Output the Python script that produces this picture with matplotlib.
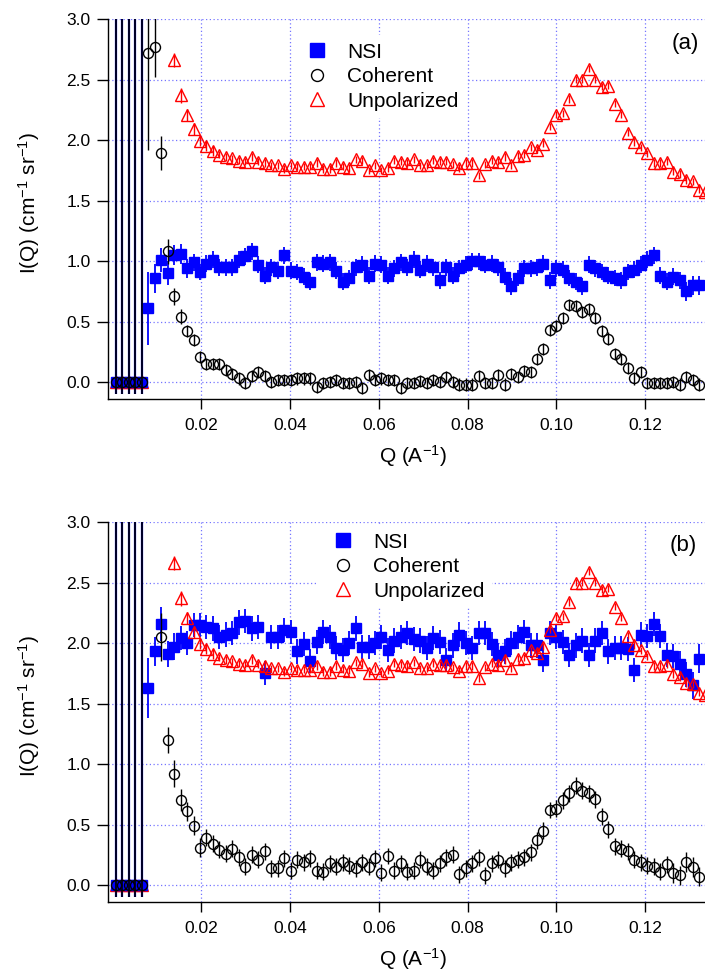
import numpy as np
import matplotlib
matplotlib.use("Agg")
import matplotlib.pyplot as plt
from matplotlib.lines import Line2D

plt.rcParams['font.family'] = ['Liberation Sans', 'DejaVu Sans']
plt.rcParams['mathtext.fontset'] = 'custom'
plt.rcParams['mathtext.rm'] = 'Liberation Sans'
plt.rcParams['mathtext.default'] = 'regular'

nan = np.nan

# lowest Q points: all set to zero, error bars run off the plot
q_low = [0.00075, 0.00221, 0.00367, 0.00513, 0.00659]
i_low = [0.0, 0.0, 0.0, 0.0, 0.0]
err_low_down = [0.10, 0.10, 0.10, 0.10, 0.10]
err_low_up = [3.05, 3.05, 3.05, 3.05, 3.05]

q = [0.00805, 0.00951, 0.01097, 0.01243, 0.01389, 0.01535, 0.01681, 0.01827, 0.01973, 0.02119,
     0.02265, 0.02411, 0.02557, 0.02703, 0.02849, 0.02995, 0.03141, 0.03287, 0.03433, 0.03579,
     0.03725, 0.03871, 0.04017, 0.04163, 0.04309, 0.04455, 0.04601, 0.04747, 0.04893, 0.05039,
     0.05185, 0.05331, 0.05477, 0.05623, 0.05769, 0.05915, 0.06061, 0.06207, 0.06353, 0.06499,
     0.06645, 0.06791, 0.06937, 0.07083, 0.07229, 0.07375, 0.07521, 0.07667, 0.07813, 0.07959,
     0.08105, 0.08251, 0.08397, 0.08543, 0.08689, 0.08835, 0.08981, 0.09127, 0.09273, 0.09419,
     0.09565, 0.09711, 0.09857, 0.10003, 0.10149, 0.10295, 0.10441, 0.10587, 0.10733, 0.10879,
     0.11025, 0.11171, 0.11317, 0.11463, 0.11609, 0.11755, 0.11901, 0.12047, 0.12193, 0.12339,
     0.12485, 0.12631, 0.12777, 0.12923, 0.13069, 0.13215, 0.13361]

# unpolarized (same in both panels)
unpol = [nan, nan, nan, nan, 2.66, 2.37, 2.21, 2.09, 1.99, 1.95,
         1.91, 1.88, 1.86, 1.85, 1.83, 1.82, 1.86, 1.82, 1.81, 1.79,
         1.79, 1.76, 1.79, 1.78, 1.78, 1.78, 1.81, 1.76, 1.76, 1.81,
         1.78, 1.77, 1.84, 1.83, 1.75, 1.79, 1.75, 1.77, 1.83, 1.82,
         1.81, 1.84, 1.79, 1.79, 1.83, 1.82, 1.82, 1.80, 1.77, 1.81,
         1.81, 1.71, 1.80, 1.83, 1.82, 1.86, 1.79, 1.87, 1.88, 1.94,
         1.92, 1.97, 2.11, 2.21, 2.22, 2.34, 2.50, 2.50, 2.59, 2.50,
         2.44, 2.45, 2.30, 2.21, 2.06, 1.98, 1.94, 1.89, 1.81, 1.81,
         1.82, 1.74, 1.72, 1.67, 1.66, 1.59, 1.57]
unpol_err = [0, 0, 0, 0, 0.06, 0.06, 0.05, 0.05, 0.04, 0.04,
             0.04, 0.03, 0.03, 0.03, 0.03, 0.03, 0.03, 0.03, 0.03, 0.03,
             0.03, 0.03, 0.03, 0.03, 0.03, 0.03, 0.03, 0.03, 0.03, 0.03,
             0.03, 0.03, 0.03, 0.03, 0.03, 0.03, 0.03, 0.03, 0.03, 0.03,
             0.03, 0.03, 0.03, 0.03, 0.03, 0.03, 0.03, 0.03, 0.03, 0.03,
             0.03, 0.03, 0.03, 0.03, 0.03, 0.03, 0.03, 0.03, 0.03, 0.03,
             0.03, 0.03, 0.03, 0.03, 0.03, 0.03, 0.03, 0.03, 0.03, 0.03,
             0.03, 0.03, 0.03, 0.03, 0.03, 0.03, 0.03, 0.03, 0.03, 0.03,
             0.03, 0.03, 0.03, 0.03, 0.03, 0.03, 0.03]

# panel (a)
nsi_a = [0.61, 0.86, 1.01, 0.90, 1.05, 1.06, 0.94, 0.99, 0.91, 0.98,
         1.01, 0.95, 0.95, 0.95, 1.01, 1.04, 1.08, 0.97, 0.88, 0.95,
         0.92, 1.05, 0.92, 0.91, 0.87, 0.83, 0.99, 0.98, 0.99, 0.92,
         0.83, 0.86, 0.95, 0.97, 0.88, 0.98, 0.97, 0.88, 0.94, 0.99,
         0.95, 1.01, 0.93, 0.98, 0.95, 0.84, 0.95, 0.88, 0.94, 0.97,
         1.00, 1.00, 0.97, 0.98, 0.95, 0.87, 0.79, 0.86, 0.94, 0.94,
         0.95, 0.98, 0.84, 0.94, 0.93, 0.86, 0.83, 0.79, 0.97, 0.94,
         0.91, 0.88, 0.86, 0.84, 0.91, 0.93, 0.97, 1.01, 1.05, 0.88,
         0.83, 0.87, 0.84, 0.75, 0.80, 0.80, nan]
nsi_a_err = [0.30, 0.12, 0.10, 0.10, 0.08, 0.08, 0.08, 0.07, 0.07, 0.07,
             0.07, 0.07, 0.07, 0.07, 0.07, 0.07, 0.07, 0.07, 0.07, 0.07,
             0.07, 0.07, 0.07, 0.07, 0.07, 0.07, 0.07, 0.07, 0.07, 0.07,
             0.07, 0.07, 0.07, 0.07, 0.07, 0.07, 0.07, 0.07, 0.07, 0.07,
             0.07, 0.07, 0.07, 0.07, 0.07, 0.07, 0.07, 0.07, 0.07, 0.07,
             0.07, 0.07, 0.07, 0.07, 0.07, 0.07, 0.07, 0.07, 0.07, 0.07,
             0.07, 0.07, 0.07, 0.07, 0.07, 0.07, 0.07, 0.07, 0.07, 0.07,
             0.07, 0.07, 0.07, 0.07, 0.07, 0.07, 0.07, 0.07, 0.07, 0.07,
             0.07, 0.07, 0.07, 0.08, 0.08, 0.08, 0]
coh_a = [2.72, 2.77, 1.89, 1.08, 0.71, 0.54, 0.42, 0.35, 0.21, 0.15,
         0.15, 0.15, 0.10, 0.07, 0.03, -0.01, 0.05, 0.08, 0.05, 0.00,
         0.02, 0.02, 0.02, 0.03, 0.03, 0.03, -0.04, -0.01, 0.00, 0.02,
         -0.01, -0.01, 0.00, -0.05, 0.06, 0.02, 0.03, 0.02, 0.02, -0.05,
         -0.01, -0.01, 0.01, -0.01, 0.02, 0.00, 0.04, 0.00, -0.02, -0.02,
         -0.02, 0.05, -0.01, -0.01, 0.06, -0.02, 0.07, 0.04, 0.09, 0.08,
         0.19, 0.27, 0.43, 0.46, 0.53, 0.64, 0.63, 0.58, 0.60, 0.53,
         0.42, 0.36, 0.23, 0.19, 0.12, 0.03, 0.08, -0.01, -0.01, -0.01,
         -0.01, 0.00, -0.02, 0.04, 0.02, -0.02, nan]
coh_a_err = [0.80, 0.25, 0.14, 0.10, 0.07, 0.06, 0.05, 0.05, 0.05, 0.05,
             0.05, 0.05, 0.05, 0.05, 0.05, 0.05, 0.05, 0.05, 0.05, 0.05,
             0.05, 0.05, 0.05, 0.05, 0.05, 0.05, 0.05, 0.05, 0.05, 0.05,
             0.05, 0.05, 0.05, 0.05, 0.05, 0.05, 0.05, 0.05, 0.05, 0.05,
             0.05, 0.05, 0.05, 0.05, 0.05, 0.05, 0.05, 0.05, 0.05, 0.05,
             0.05, 0.05, 0.05, 0.05, 0.05, 0.05, 0.05, 0.05, 0.05, 0.05,
             0.05, 0.05, 0.05, 0.05, 0.05, 0.05, 0.05, 0.05, 0.05, 0.05,
             0.05, 0.05, 0.05, 0.05, 0.05, 0.05, 0.05, 0.05, 0.05, 0.05,
             0.05, 0.05, 0.05, 0.05, 0.05, 0.05, 0]

# panel (b)
nsi_b = [1.63, 1.93, 2.16, 1.91, 1.97, 2.04, 2.00, 2.15, 2.15, 2.13,
         2.12, 2.05, 2.07, 2.08, 2.17, 2.18, 2.12, 2.13, 1.75, 2.05,
         2.05, 2.11, 2.09, 1.93, 1.99, 1.85, 2.01, 2.09, 2.05, 1.96,
         1.94, 2.00, 2.12, 1.97, 1.97, 2.00, 2.05, 1.94, 2.02, 2.05,
         2.08, 2.03, 2.02, 1.96, 2.04, 2.01, 1.86, 1.98, 2.07, 2.00,
         1.96, 2.08, 2.08, 1.99, 1.90, 1.93, 2.00, 2.05, 2.09, 1.98,
         1.98, 1.86, 2.08, 2.05, 2.01, 1.90, 1.98, 2.02, 1.90, 2.02,
         2.08, 1.93, 1.96, 1.96, 1.95, 1.78, 2.07, 2.06, 2.16, 2.06,
         1.90, 1.89, 1.83, 1.74, 1.65, 1.87, nan]
nsi_b_err = [0.25, 0.12, 0.14, 0.11, 0.11, 0.10, 0.10, 0.10, 0.10, 0.10,
             0.10, 0.10, 0.10, 0.10, 0.10, 0.10, 0.10, 0.10, 0.10, 0.10,
             0.10, 0.10, 0.10, 0.10, 0.10, 0.10, 0.10, 0.10, 0.10, 0.10,
             0.10, 0.10, 0.10, 0.10, 0.10, 0.10, 0.10, 0.10, 0.10, 0.10,
             0.10, 0.10, 0.10, 0.10, 0.10, 0.10, 0.10, 0.10, 0.10, 0.10,
             0.10, 0.10, 0.10, 0.10, 0.10, 0.10, 0.10, 0.10, 0.10, 0.10,
             0.10, 0.10, 0.10, 0.10, 0.10, 0.10, 0.10, 0.10, 0.10, 0.10,
             0.10, 0.10, 0.10, 0.10, 0.10, 0.10, 0.10, 0.10, 0.10, 0.10,
             0.10, 0.10, 0.10, 0.10, 0.11, 0.12, 0]
coh_b = [nan, nan, 2.05, 1.20, 0.92, 0.70, 0.61, 0.49, 0.31, 0.39,
         0.34, 0.29, 0.26, 0.30, 0.23, 0.15, 0.25, 0.21, 0.28, 0.14,
         0.14, 0.22, 0.12, 0.21, 0.19, 0.22, 0.12, 0.11, 0.18, 0.15,
         0.19, 0.16, 0.14, 0.19, 0.15, 0.22, 0.10, 0.24, 0.12, 0.18,
         0.11, 0.12, 0.21, 0.15, 0.12, 0.18, 0.23, 0.25, 0.09, 0.14,
         0.18, 0.23, 0.08, 0.18, 0.21, 0.14, 0.19, 0.21, 0.23, 0.27,
         0.37, 0.45, 0.62, 0.63, 0.70, 0.76, 0.82, 0.78, 0.76, 0.71,
         0.57, 0.46, 0.32, 0.30, 0.28, 0.21, 0.19, 0.16, 0.15, 0.11,
         0.17, 0.10, 0.08, 0.19, 0.15, 0.07, nan]
coh_b_err = [0, 0, 0.20, 0.11, 0.11, 0.09, 0.08, 0.08, 0.08, 0.07,
             0.07, 0.07, 0.07, 0.07, 0.07, 0.07, 0.07, 0.07, 0.07, 0.07,
             0.07, 0.07, 0.07, 0.07, 0.07, 0.07, 0.07, 0.07, 0.07, 0.07,
             0.07, 0.07, 0.07, 0.07, 0.07, 0.07, 0.07, 0.07, 0.07, 0.07,
             0.07, 0.07, 0.07, 0.07, 0.07, 0.07, 0.07, 0.07, 0.07, 0.07,
             0.07, 0.07, 0.07, 0.07, 0.07, 0.07, 0.07, 0.07, 0.07, 0.07,
             0.07, 0.07, 0.07, 0.07, 0.07, 0.07, 0.07, 0.07, 0.07, 0.07,
             0.07, 0.07, 0.07, 0.07, 0.07, 0.07, 0.07, 0.07, 0.07, 0.07,
             0.07, 0.08, 0.08, 0.08, 0.08, 0.08, 0]

labels = ['NSI', 'Coherent', 'Unpolarized']
BLUE = '#0000ff'
RED = '#ff0000'
GRID = '#7575ff'


def draw_panel(ax, nsi, nsi_err, coh, coh_err, tag, leg_anchor, tag_xy):
    low_err = [err_low_down, err_low_up]
    # zero points at lowest Q
    ax.errorbar(q_low, i_low, yerr=low_err, fmt='^', ms=8.6, mfc='none', mec=RED,
                mew=1, ecolor=RED, elinewidth=1.2, capsize=0, zorder=3)
    ax.errorbar(q_low, i_low, yerr=low_err, fmt='s', ms=7.2, color=BLUE,
                ecolor=BLUE, elinewidth=1.6, capsize=0, zorder=3)
    ax.errorbar(q_low, i_low, yerr=low_err, fmt='o', ms=7.2, mfc='none', mec='k',
                mew=1, ecolor='k', elinewidth=1.2, capsize=0, zorder=4)

    ax.errorbar(q, nsi, yerr=nsi_err, fmt='s', ms=7.2, color=BLUE,
                ecolor=BLUE, elinewidth=1.3, capsize=0, zorder=3)
    ax.errorbar(q, unpol, yerr=unpol_err, fmt='^', ms=8.6, mfc='none', mec=RED,
                mew=1, ecolor=RED, elinewidth=1, capsize=0, zorder=4)
    ax.errorbar(q, coh, yerr=coh_err, fmt='o', ms=7.2, mfc='none', mec='k',
                mew=1, ecolor='k', elinewidth=1, capsize=0, zorder=5)

    ax.set_xlim(-0.001, 0.1335)
    ax.set_ylim(-0.14, 3.0)
    ax.set_xticks([0.02, 0.04, 0.06, 0.08, 0.10, 0.12])
    ax.set_yticks([0.0, 0.5, 1.0, 1.5, 2.0, 2.5, 3.0])
    ax.xaxis.set_major_formatter(plt.FormatStrFormatter('%.2f'))
    ax.yaxis.set_major_formatter(plt.FormatStrFormatter('%.1f'))
    ax.tick_params(axis='x', direction='out', length=7.5, width=1, labelsize=12.5, pad=6)
    ax.tick_params(axis='y', direction='out', length=8, width=1, labelsize=12.5, pad=4.5)
    ax.grid(True, color=GRID, linestyle=(0, (1, 2)), linewidth=0.9)
    ax.set_axisbelow(True)
    for side in ['top', 'right']:
        ax.spines[side].set_visible(False)
    for side in ['left', 'bottom']:
        ax.spines[side].set_linewidth(1)

    ax.set_ylabel('I(Q) (cm$^{-1}$ sr$^{-1}$)', fontsize=15)
    ax.yaxis.set_label_coords(-0.11, 0.515)
    ax.set_xlabel('Q (A$^{-1}$)', fontsize=15)
    ax.xaxis.set_label_coords(0.51, -0.115)

    handles = [
        Line2D([], [], marker='s', ls='none', ms=10, color=BLUE),
        Line2D([], [], marker='o', ls='none', ms=8.6, mfc='none', mec='k', mew=1),
        Line2D([], [], marker='^', ls='none', ms=10, mfc='none', mec=RED, mew=1),
    ]
    leg = ax.legend(handles, labels, loc='upper left', bbox_to_anchor=leg_anchor,
                    fontsize=15, frameon=True, framealpha=1, facecolor='white',
                    edgecolor='none', fancybox=False, handlelength=1.7,
                    handletextpad=0.59, labelspacing=0.26, borderpad=0.35,
                    borderaxespad=0)
    leg.set_zorder(6)
    ax.text(tag_xy[0], tag_xy[1], tag, transform=ax.transAxes, fontsize=16,
            ha='center', va='center', zorder=7)


fig = plt.figure(figsize=(7.05, 9.73), dpi=100)
ax_a = fig.add_axes([0.1532, 0.5899, 0.8468, 0.3905])
ax_b = fig.add_axes([0.1532, 0.0730, 0.8468, 0.3905])

draw_panel(ax_a, nsi_a, nsi_a_err, coh_a, coh_a_err, '(a)', (0.308, 0.957), (0.967, 0.936))
draw_panel(ax_b, nsi_b, nsi_b_err, coh_b, coh_b_err, '(b)', (0.352, 0.991), (0.963, 0.939))

fig.savefig('out.png', dpi=100)
